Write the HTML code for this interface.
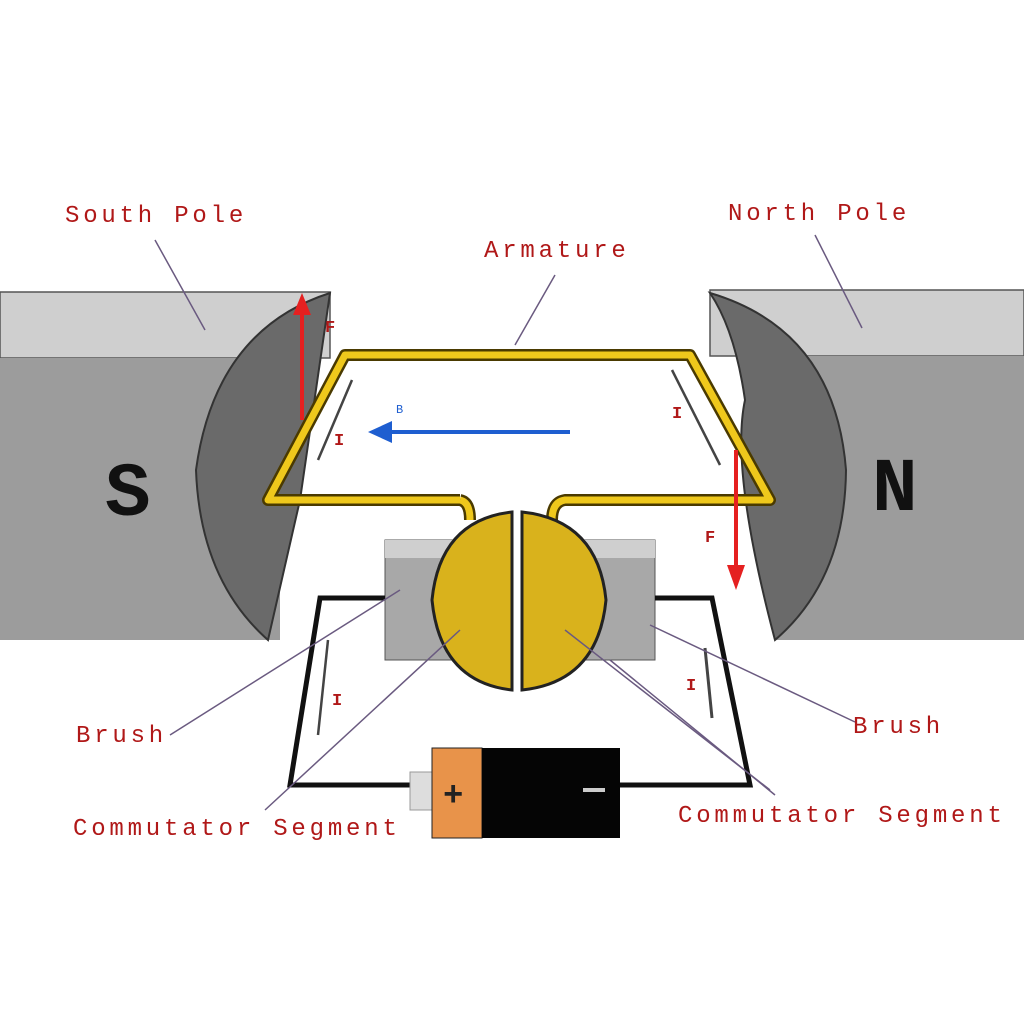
<!DOCTYPE html>
<html><head><style>
html,body{margin:0;padding:0;background:#fff;}
svg{display:block;}
text{font-family:"Liberation Mono",monospace;fill:#b01818;}
.l{font-size:24px;letter-spacing:3.8px;}
</style></head><body>
<svg width="1024" height="1024" viewBox="0 0 1024 1024">
<rect width="1024" height="1024" fill="#fff"/>
<!-- left magnet -->
<rect x="0" y="292" width="330" height="66" fill="#cfcfcf" stroke="#555" stroke-width="1.5"/>
<rect x="0" y="358" width="280" height="282" fill="#9c9c9c"/>
<path d="M330,293 Q215,330 196,470 Q200,580 268,640 L300,500 Z" fill="#6a6a6a" stroke="#333" stroke-width="2"/>
<text x="105" y="515" style="font-family:'Liberation Mono',monospace;font-weight:bold;font-size:76px;fill:#111">S</text>
<!-- right magnet -->
<rect x="710" y="290" width="314" height="66" fill="#cfcfcf" stroke="#555" stroke-width="1.5"/>
<rect x="775" y="356" width="249" height="284" fill="#9c9c9c"/>
<path d="M710,293 Q835,330 846,470 Q845,580 775,640 Q730,470 745,400 Q735,330 710,293 Z" fill="#6a6a6a" stroke="#333" stroke-width="2"/>
<text x="872" y="510" style="font-family:'Liberation Mono',monospace;font-weight:bold;font-size:76px;fill:#111">N</text>
<!-- brushes -->
<rect x="385" y="540" width="88" height="120" fill="#a8a8a8" stroke="#555"/>
<rect x="385" y="540" width="88" height="18" fill="#cfcfcf"/>
<rect x="560" y="540" width="95" height="120" fill="#a8a8a8" stroke="#555"/>
<rect x="560" y="540" width="95" height="18" fill="#cfcfcf"/>
<!-- circuit -->
<path d="M385,598 L320,598 L290,785 L430,785 M620,785 L750,785 L712,598 L655,598" fill="none" stroke="#111" stroke-width="5"/>
<rect x="410" y="772" width="22" height="38" fill="#ddd" stroke="#999"/>
<rect x="432" y="748" width="50" height="90" fill="#e8934a" stroke="#222"/>
<rect x="482" y="748" width="138" height="90" fill="#050505"/>
<text x="443" y="805" style="font-size:34px;fill:#222;font-weight:bold">+</text>
<rect x="583" y="788" width="22" height="4" fill="#ccc"/>
<!-- loop -->
<path d="M460,500 L268,500 L345,355 L690,355 L770,500 L565,500 Q552,502 552,520 M460,500 Q470,502 470,520" fill="none" stroke="#4a3a00" stroke-width="12" stroke-linejoin="round"/>
<path d="M460,500 L268,500 L345,355 L690,355 L770,500 L565,500 Q552,502 552,520 M460,500 Q470,502 470,520" fill="none" stroke="#efc81c" stroke-width="7" stroke-linejoin="round"/>
<!-- commutator -->
<path d="M512,512 Q440,520 432,600 Q440,682 512,690 Z" fill="#d9b21c" stroke="#222" stroke-width="3"/>
<path d="M522,512 Q598,520 606,600 Q598,682 522,690 Z" fill="#d9b21c" stroke="#222" stroke-width="3"/>
<!-- B arrow -->
<line x1="570" y1="432" x2="385" y2="432" stroke="#1e5ed0" stroke-width="4"/>
<polygon points="368,432 392,421 392,443" fill="#1e5ed0"/>
<text x="396" y="413" style="font-size:12px;fill:#1e5ed0">B</text>
<!-- F arrows -->
<line x1="302" y1="420" x2="302" y2="310" stroke="#e52020" stroke-width="4"/>
<polygon points="302,293 293,315 311,315" fill="#e52020"/>
<text x="325" y="332" style="font-size:17px;font-weight:bold">F</text>
<line x1="736" y1="450" x2="736" y2="570" stroke="#e52020" stroke-width="4"/>
<polygon points="736,590 727,565 745,565" fill="#e52020"/>
<text x="705" y="542" style="font-size:17px;font-weight:bold">F</text>
<!-- I arrows -->
<line x1="352" y1="380" x2="318" y2="460" stroke="#444" stroke-width="2.5"/>
<text x="334" y="445" style="font-size:17px;font-weight:bold">I</text>
<line x1="672" y1="370" x2="720" y2="465" stroke="#444" stroke-width="2.5"/>
<text x="672" y="418" style="font-size:17px;font-weight:bold">I</text>
<line x1="318" y1="735" x2="328" y2="640" stroke="#444" stroke-width="2.5"/>
<text x="332" y="705" style="font-size:17px;font-weight:bold">I</text>
<line x1="705" y1="648" x2="712" y2="718" stroke="#444" stroke-width="3"/>
<text x="686" y="690" style="font-size:17px;font-weight:bold">I</text>
<!-- pointer lines -->
<g stroke="#6a5a80" stroke-width="1.5" fill="none">
<line x1="155" y1="240" x2="205" y2="330"/>
<line x1="815" y1="235" x2="862" y2="328"/>
<line x1="555" y1="275" x2="515" y2="345"/>
<line x1="170" y1="735" x2="400" y2="590"/>
<line x1="855" y1="722" x2="650" y2="625"/>
<line x1="265" y1="810" x2="460" y2="630"/>
<line x1="775" y1="795" x2="610" y2="660"/>
<line x1="770" y1="790" x2="565" y2="630"/>
</g>
<!-- labels -->
<text class="l" x="65" y="222">South Pole</text>
<text class="l" x="728" y="220">North Pole</text>
<text class="l" x="484" y="257">Armature</text>
<text class="l" x="76" y="742">Brush</text>
<text class="l" x="853" y="733">Brush</text>
<text class="l" x="73" y="835">Commutator Segment</text>
<text class="l" x="678" y="822">Commutator Segment</text>
</svg>
</body></html>
